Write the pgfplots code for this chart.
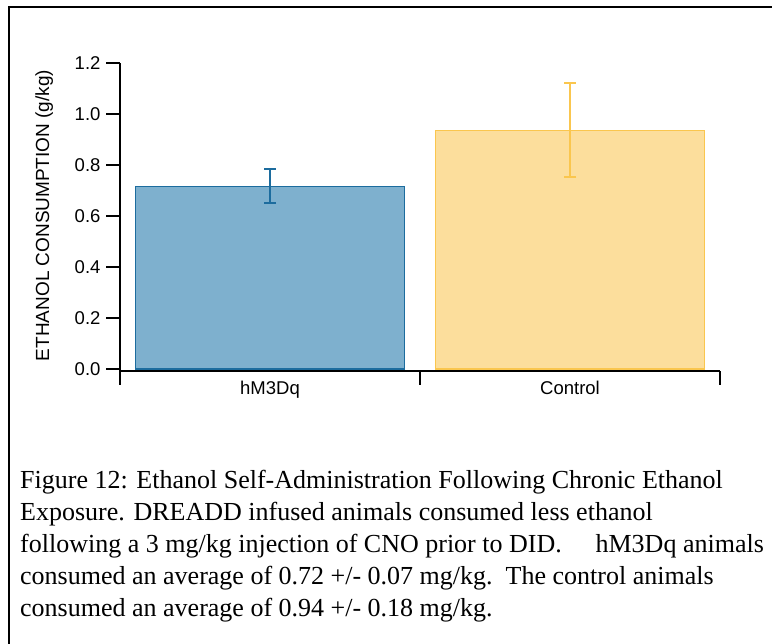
\documentclass[border=0pt]{standalone}
\usepackage{pgfplots}
\pgfplotsset{compat=1.18}
\usepackage{fontspec}
\setmainfont{Liberation Serif}
\newfontfamily\arial{Liberation Sans}
\definecolor{bluefill}{RGB}{126,176,206}
\definecolor{blueedge}{RGB}{28,108,158}
\definecolor{orfill}{RGB}{252,222,156}
\definecolor{oredge}{RGB}{250,198,78}
\newcommand{\capfont}{\fontsize{26}{32}\selectfont}
\newcommand{\axfont}{\arial\fontsize{18.5}{20}\selectfont}
\begin{document}
\begin{tikzpicture}[x=1pt,y=1pt]
\useasboundingbox (0,0) rectangle (772,644);
\draw[line width=2pt] (9,0) -- (9,637) -- (772,637);
\begin{axis}[
  at={(120pt,273pt)}, anchor=south west,
  scale only axis, width=600pt, height=308pt,
  xmin=0, xmax=2, ymin=-0.0078, ymax=1.2,
  axis x line*=bottom, axis y line*=left,
  axis line style={line width=1.8pt, black},
  every tick/.style={line width=1.8pt, black},
  tick align=outside, major tick length=14pt,
  xtick={0,1,2}, xticklabels={},
  ytick={0,0.2,0.4,0.6,0.8,1.0,1.2},
  yticklabel style={/pgf/number format/fixed, /pgf/number format/fixed zerofill, /pgf/number format/precision=1, /pgf/number format/assume math mode=true, xshift=-2pt},
  tick label style={font=\axfont},
  clip=false,
]
\addplot[ybar, bar width=269pt, bar shift=0pt, fill=bluefill, draw=blueedge, line width=1.6pt,
  error bars/.cd, y dir=both, y explicit,
  error bar style={line width=2pt, blueedge},
  error mark options={rotate=90, mark size=6pt, line width=2pt, blueedge}]
  coordinates {(0.5,0.716) += (0,0.07) -= (0,0.065)};
\addplot[ybar, bar width=269pt, bar shift=0pt, fill=orfill, draw=oredge, line width=1.6pt,
  error bars/.cd, y dir=both, y explicit,
  error bar style={line width=2pt, oredge},
  error mark options={rotate=90, mark size=6pt, line width=2pt, oredge}]
  coordinates {(1.5,0.935) += (0,0.187) -= (0,0.182)};
\node[font=\axfont, anchor=base] at (axis cs:0.5,-0.0078) [yshift=-24pt] {hM3Dq};
\node[font=\axfont, anchor=base] at (axis cs:1.5,-0.0078) [yshift=-24pt] {Control};
\end{axis}
\node[rotate=90, anchor=base, font=\arial\fontsize{19}{20}\selectfont] at (49,428.5) {ETHANOL CONSUMPTION (g/kg)};
\node[anchor=base west, inner sep=0pt, font=\capfont] at (20,155) {Figure 12: Ethanol Self-Administration Following Chronic Ethanol};
\node[anchor=base west, inner sep=0pt, font=\capfont] at (20,123) {Exposure. DREADD infused animals consumed less ethanol};
\node[anchor=base west, inner sep=0pt, font=\capfont] at (20,91) {following a 3 mg/kg injection of CNO prior to DID.\hspace{1.3em}hM3Dq animals};
\node[anchor=base west, inner sep=0pt, font=\capfont] at (20,59) {consumed an average of 0.72 +/- 0.07 mg/kg.\hspace{0.5em}The control animals};
\node[anchor=base west, inner sep=0pt, font=\capfont] at (20,27) {consumed an average of 0.94 +/- 0.18 mg/kg.};
\end{tikzpicture}
\end{document}
